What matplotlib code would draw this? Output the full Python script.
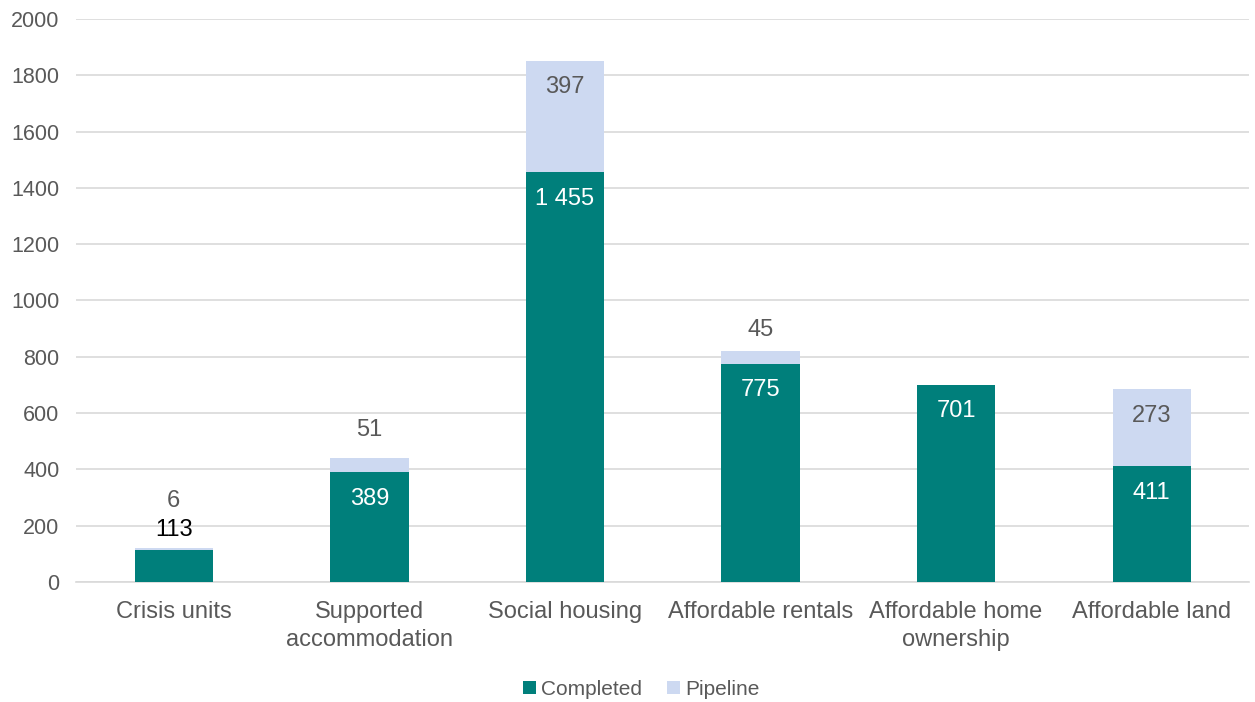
import matplotlib
matplotlib.use('Agg')
import matplotlib.pyplot as plt

categories = ['Crisis units', 'Supported\naccommodation', 'Social housing',
              'Affordable rentals', 'Affordable home\nownership', 'Affordable land']
completed = [113, 389, 1455, 775, 701, 411]
pipeline = [6, 51, 397, 45, 0, 273]
completed_labels = ['113', '389', '1 455', '775', '701', '411']
pipeline_labels = ['6', '51', '397', '45', '', '273']

plt.rcParams['font.family'] = ['Liberation Sans', 'DejaVu Sans']
teal = '#007f7b'
light = '#cdd9f1'
grey = '#595959'

fig = plt.figure(figsize=(12.55, 7.02), dpi=100)
ax = fig.add_axes([0.0606, 0.171, 0.935, 0.802])

x = range(len(categories))
b1 = ax.bar(x, completed, width=0.4, color=teal, label='Completed', zorder=3)
b2 = ax.bar(x, pipeline, width=0.4, bottom=completed, color=light, label='Pipeline', zorder=3)

# label offsets in points (inside end unless the segment is too small)
comp_off = [13, -19, -19, -19, -19, -19]
pipe_off = [34, 20, -19, 15, 0, -19]
for i in x:
    if i == 0:
        ax.annotate(completed_labels[i], (i, completed[i] + pipeline[i]), xytext=(0, comp_off[i]),
                    textcoords='offset points', ha='center', va='center', fontsize=17, color='black')
    else:
        ax.annotate(completed_labels[i], (i, completed[i]), xytext=(0, comp_off[i]),
                    textcoords='offset points', ha='center', va='center', fontsize=17, color='white')
    if pipeline_labels[i]:
        ax.annotate(pipeline_labels[i], (i, completed[i] + pipeline[i]), xytext=(0, pipe_off[i]),
                    textcoords='offset points', ha='center', va='center', fontsize=17, color=grey)

ax.set_ylim(0, 2000)
ax.set_xlim(-0.5, 5.5)
ax.set_yticks(range(0, 2001, 200))
ax.set_xticks(list(x))
ax.set_xticklabels(categories, fontsize=17, color=grey, linespacing=1.35)
ax.tick_params(axis='y', labelsize=15.5, labelcolor=grey, length=0, pad=12)
ax.tick_params(axis='x', length=0, pad=14)
ax.grid(axis='y', color='#d9d9d9', linewidth=1.2, zorder=0)
for s in ['top', 'right', 'left']:
    ax.spines[s].set_visible(False)
ax.spines['bottom'].set_color('#d9d9d9')
ax.spines['bottom'].set_linewidth(1.2)

fig.legend(handles=[b1, b2], labels=['Completed', 'Pipeline'], loc='center', bbox_to_anchor=(0.511, 0.018),
           ncol=2, frameon=False, fontsize=15, labelcolor=grey, handlelength=0.6, handleheight=0.6,
           handletextpad=0.25, columnspacing=1.2)

fig.savefig('out.png', dpi=100)
